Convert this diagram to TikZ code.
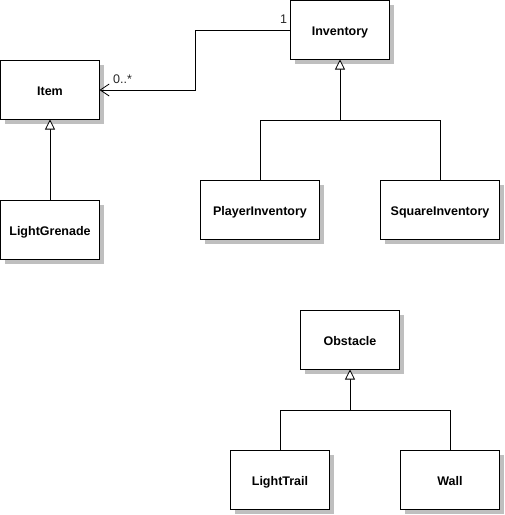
\documentclass[tikz,border=0pt]{standalone}
\usepackage{fontspec}
\setmainfont{Liberation Sans}
\usetikzlibrary{arrows.meta,shadows,calc}
\begin{document}
\begin{tikzpicture}[x=1pt,y=-1pt,
  cls/.style={draw=black, fill=white, line width=1pt, minimum width=99pt, minimum height=59pt,
    anchor=north west, inner sep=0pt, outer sep=0pt, text height=11pt, text depth=0pt,
    font=\fontsize{12.5}{14}\selectfont\bfseries,
    drop shadow={shadow xshift=4pt, shadow yshift=-4pt, fill=black!25, opacity=1}},
  wide/.style={minimum width=119pt},
  edge/.style={draw=black, line width=1pt},
  gen/.style={edge, -{Triangle[length=10pt, width=10pt, fill=white, line width=0.8pt]}},
  assoc/.style={edge, -{Straight Barb[length=9pt, width=12pt, line width=0.8pt]}},
  lbl/.style={font=\fontsize{12.5}{14}\selectfont, inner sep=0pt, text=black!85}]
\useasboundingbox (0,0) rectangle (505,515);
\node[cls] (item) at (0.5,60.5) {Item};
\node[cls] (inv) at (290.5,0.5) {Inventory};
\node[cls] (lg) at (0.5,200.5) {LightGrenade};
\node[cls, wide] (pi) at (200.5,180.5) {PlayerInventory};
\node[cls, wide] (si) at (380.5,180.5) {SquareInventory};
\node[cls] (obs) at (300.5,310.5) {Obstacle};
\node[cls] (lt) at (230.5,450.5) {LightTrail};
\node[cls] (wall) at (400.5,450.5) {Wall};
\coordinate (jinv) at (340,120.5);
\coordinate (jobs) at (350,410.5);
\coordinate (amid) at (195.5,30);
\draw[assoc] (inv.west) -| (amid) |- (item.east);
\node[lbl] (m1) at (283.5,19.5) {1};
\node[lbl] (m2) at (122.5,79.5) {0..*};
\draw[gen] (lg.north) -- (item.south);
\draw[gen] (pi.north) |- (jinv) -- (inv.south);
\draw[edge] (si.north) |- (jinv);
\draw[gen] (lt.north) |- (jobs) -- (obs.south);
\draw[edge] (wall.north) |- (jobs);
\end{tikzpicture}
\end{document}
